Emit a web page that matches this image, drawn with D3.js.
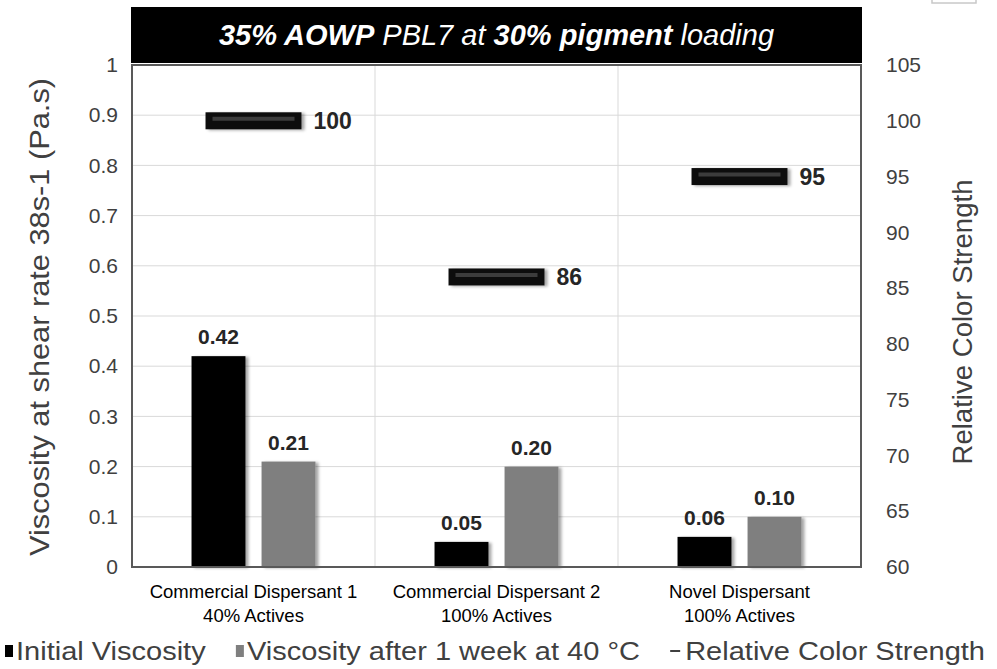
<!DOCTYPE html>
<html>
<head>
<meta charset="utf-8">
<script src="https://cdn.jsdelivr.net/npm/d3@7"></script>
<style>
  html, body { margin: 0; padding: 0; background: #fff; }
  svg { display: block; font-family: "Liberation Sans", Arial, sans-serif; }
</style>
</head>
<body>
<svg id="chart" width="997" height="669"></svg>
<script>
// Dispersant comparison: viscosity bars (left axis) and relative color strength markers (right axis)
const categories = ["Commercial Dispersant 1", "Commercial Dispersant 2", "Novel Dispersant"];
const categorySubtitles = ["40% Actives", "100% Actives", "100% Actives"];
const initialViscosity = [0.42, 0.05, 0.06];
const weekViscosity = [0.21, 0.20, 0.10];
const colorStrength = [100, 86, 95];
const viscosityTicks = [0, 0.1, 0.2, 0.3, 0.4, 0.5, 0.6, 0.7, 0.8, 0.9, 1];
const strengthTicks = [60, 65, 70, 75, 80, 85, 90, 95, 100, 105];
const seriesNames = ["Initial Viscosity", "Viscosity after 1 week at 40 °C", "Relative Color Strength"];

const svg = d3.select("#chart");
const plot = { left: 132, right: 861, top: 65, bottom: 567 };

const x = d3.scaleBand().domain(categories).range([plot.left, plot.right]).padding(0);
const xSeries = d3.scaleBand().domain(["initial", "week"]).range([0, x.bandwidth()])
  .paddingInner(0.23).paddingOuter(0.85);
const y = d3.scaleLinear().domain([0, 1]).range([plot.bottom, plot.top]);
const yR = d3.scaleLinear().domain([60, 105]).range([plot.bottom, plot.top]);

// soft shadow under the bars
const defs = svg.append("defs");
const shadow = defs.append("filter").attr("id", "barShadow")
  .attr("x", "-20%").attr("y", "-20%").attr("width", "150%").attr("height", "150%");
shadow.append("feDropShadow").attr("dx", 3).attr("dy", 1).attr("stdDeviation", 1.8)
  .attr("flood-color", "#000").attr("flood-opacity", 0.35);

// gridlines
svg.append("g").selectAll("line").data(viscosityTicks).join("line")
  .attr("x1", plot.left).attr("x2", plot.right)
  .attr("y1", d => y(d)).attr("y2", d => y(d))
  .attr("stroke", "#d9d9d9").attr("stroke-width", 1);
svg.append("g").selectAll("line").data(categories.slice(1)).join("line")
  .attr("x1", d => x(d)).attr("x2", d => x(d))
  .attr("y1", plot.top).attr("y2", plot.bottom)
  .attr("stroke", "#d9d9d9").attr("stroke-width", 1);

// bars
const rows = categories.map((c, i) => ({ c, initial: initialViscosity[i], week: weekViscosity[i], strength: colorStrength[i] }));
const barColor = { initial: "#000000", week: "#7f7f7f" };
const barG = svg.append("g");
["initial", "week"].forEach(key => {
  barG.append("g").selectAll("rect").data(rows).join("rect")
    .attr("x", d => x(d.c) + xSeries(key))
    .attr("width", xSeries.bandwidth())
    .attr("y", d => y(d[key]))
    .attr("height", d => y(0) - y(d[key]))
    .attr("fill", barColor[key])
    .attr("filter", "url(#barShadow)");
  barG.append("g").selectAll("text").data(rows).join("text")
    .attr("x", d => x(d.c) + xSeries(key) + xSeries.bandwidth() / 2)
    .attr("y", d => y(d[key]) - 12)
    .attr("text-anchor", "middle")
    .attr("font-size", 21).attr("font-weight", "bold").attr("fill", "#262626")
    .text(d => d[key].toFixed(2));
});

// relative color strength markers
const markerW = 96, markerH = 17;
const markG = svg.append("g");
markG.selectAll("rect").data(rows).join("rect")
  .attr("x", d => x(d.c) + x.bandwidth() / 2 - markerW / 2)
  .attr("y", d => yR(d.strength) - markerH / 2)
  .attr("width", markerW).attr("height", markerH)
  .attr("fill", "#111")
  .attr("filter", "url(#barShadow)");
markG.selectAll("line").data(rows).join("line")
  .attr("x1", d => x(d.c) + x.bandwidth() / 2 - markerW / 2 + 7)
  .attr("x2", d => x(d.c) + x.bandwidth() / 2 + markerW / 2 - 7)
  .attr("y1", d => yR(d.strength) - 2).attr("y2", d => yR(d.strength) - 2)
  .attr("stroke", "#3c3c3c").attr("stroke-width", 4);
markG.selectAll("text").data(rows).join("text")
  .attr("x", d => x(d.c) + x.bandwidth() / 2 + markerW / 2 + 12)
  .attr("y", d => yR(d.strength))
  .attr("dy", "0.36em")
  .attr("font-size", 23).attr("font-weight", "bold").attr("fill", "#262626")
  .text(d => d.strength);

// plot frame
svg.append("rect")
  .attr("x", plot.left).attr("y", plot.top)
  .attr("width", plot.right - plot.left).attr("height", plot.bottom - plot.top)
  .attr("fill", "none").attr("stroke", "#595959").attr("stroke-width", 2);

// axes
const leftAxis = svg.append("g").attr("transform", `translate(${plot.left},0)`)
  .call(d3.axisLeft(y).tickValues(viscosityTicks).tickSize(0).tickPadding(14)
    .tickFormat(d => String(+d.toFixed(1))));
const rightAxis = svg.append("g").attr("transform", `translate(${plot.right},0)`)
  .call(d3.axisRight(yR).tickValues(strengthTicks).tickSize(0).tickPadding(25));
[leftAxis, rightAxis].forEach(g => {
  g.select(".domain").remove();
  g.selectAll("text").attr("font-size", 21).attr("fill", "#404040")
    .attr("font-family", "'Liberation Sans', Arial, sans-serif");
});

// axis titles
svg.append("text")
  .attr("transform", `translate(49,${(plot.top + plot.bottom) / 2 + 1}) rotate(-90)`)
  .attr("text-anchor", "middle").attr("font-size", 28).attr("fill", "#404040")
  .attr("textLength", 478).attr("lengthAdjust", "spacingAndGlyphs")
  .text("Viscosity at shear rate 38s-1 (Pa.s)");
svg.append("text")
  .attr("transform", `translate(972,322) rotate(-90)`)
  .attr("text-anchor", "middle").attr("font-size", 27).attr("fill", "#404040")
  .attr("textLength", 285).attr("lengthAdjust", "spacingAndGlyphs")
  .text("Relative Color Strength");

// category labels
const catG = svg.append("g");
catG.selectAll("text").data(categories).join("text")
  .attr("x", d => x(d) + x.bandwidth() / 2)
  .attr("y", 598)
  .attr("text-anchor", "middle").attr("font-size", 18.5).attr("fill", "#000")
  .each(function (d, i) {
    const t = d3.select(this);
    t.append("tspan").attr("x", x(d) + x.bandwidth() / 2).text(d);
    t.append("tspan").attr("x", x(d) + x.bandwidth() / 2).attr("dy", 24).text(categorySubtitles[i]);
  });

// title banner
svg.append("rect").attr("x", 131).attr("y", 7).attr("width", 731).attr("height", 56).attr("fill", "#000");
const title = svg.append("text")
  .attr("x", (131 + 862) / 2).attr("y", 45)
  .attr("text-anchor", "middle").attr("font-size", 29).attr("font-style", "italic").attr("fill", "#fff");
title.append("tspan").attr("font-weight", "bold").text("35% AOWP");
title.append("tspan").text(" PBL7 at ");
title.append("tspan").attr("font-weight", "bold").text("30% pigment");
title.append("tspan").text(" loading");

// small tab at top right
svg.append("rect").attr("x", 932).attr("y", -3).attr("width", 44).attr("height", 6)
  .attr("fill", "none").attr("stroke", "#c8c8c8").attr("stroke-width", 1.5);

// legend: symbols and slightly widened labels laid out across the full width
const legend = svg.append("g").attr("font-size", 25).attr("fill", "#404040");
const legY = 651, legLeft = 5, legRight = 985, symW = 8, symGap = 3, widen = 1.16;
const legendSymbols = [
  g => g.append("rect").attr("y", -6).attr("width", symW).attr("height", 12).attr("fill", "#000"),
  g => g.append("rect").attr("y", -6).attr("width", symW).attr("height", 12).attr("fill", "#7f7f7f"),
  g => g.append("line").attr("x1", 0).attr("x2", symW + 2).attr("stroke", "#404040").attr("stroke-width", 2)
];
const items = seriesNames.map((name, i) => {
  const g = legend.append("g");
  legendSymbols[i](g);
  const offset = symW + symGap + (i === 2 ? 4 : 0);
  const t = g.append("text").attr("x", offset).attr("dy", "0.36em").text(name);
  const w = t.node().getComputedTextLength() * widen;
  t.attr("textLength", w).attr("lengthAdjust", "spacingAndGlyphs");
  return { g, w: offset + w };
});
const totalW = d3.sum(items, d => d.w);
const gap = (legRight - legLeft - totalW) / (items.length - 1);
let cx = legLeft;
items.forEach(it => {
  it.g.attr("transform", `translate(${cx},${legY})`);
  cx += it.w + gap;
});
</script>
</body>
</html>
